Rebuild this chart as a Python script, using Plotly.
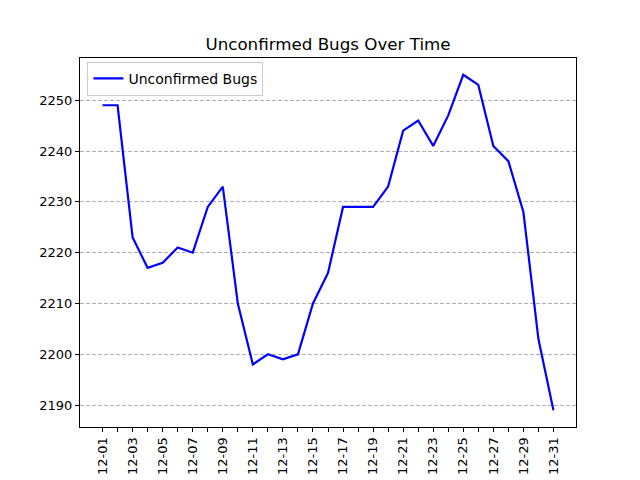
import plotly.graph_objects as go

days = [f"12-{d:02d}" for d in range(1, 32)]
bugs = [2249, 2249, 2223, 2217, 2218, 2221, 2220, 2229, 2233, 2210,
        2198, 2200, 2199, 2200, 2210, 2216, 2229, 2229, 2229, 2233,
        2244, 2246, 2241, 2247, 2255, 2253, 2241, 2238, 2228, 2203, 2189]
tick_text = [d if i % 2 == 0 else "" for i, d in enumerate(days)]
y_ticks = [2190, 2200, 2210, 2220, 2230, 2240, 2250]

fig = go.Figure()
fig.add_trace(go.Scatter(x=days, y=bugs, mode="lines", name="Unconfirmed Bugs",
                         line=dict(color="#0000ff", width=2.2)))

font = "DejaVu Sans, sans-serif"
fig.update_layout(
    width=640, height=480,
    margin=dict(l=80, r=64, t=58, b=53, autoexpand=False),
    paper_bgcolor="white", plot_bgcolor="white",
    font=dict(family=font, size=13, color="black"),
    title=dict(text="Unconfirmed Bugs Over Time", x=0.5, xref="paper",
               y=1 - 44 / 480, yanchor="middle", font=dict(size=16.7)),
    showlegend=True,
    legend=dict(x=0.015, y=0.99, xanchor="left", yanchor="top",
                bordercolor="#cccccc", borderwidth=1, bgcolor="rgba(255,255,255,0.8)",
                font=dict(size=14), tracegroupgap=0),
)
fig.update_xaxes(
    type="category", tickmode="array", tickvals=days, ticktext=tick_text,
    range=[-1.5, 31.5], tickangle=-90, ticks="outside", ticklen=4, tickcolor="black",
    showline=True, linecolor="black", linewidth=1, mirror=True, showgrid=False,
    tickfont=dict(size=13), automargin=False,
)
fig.update_yaxes(
    tickmode="array", tickvals=y_ticks, range=[2185.7, 2258.3],
    ticks="outside", ticklen=4, tickcolor="black",
    showline=True, linecolor="black", linewidth=1, mirror=True,
    showgrid=True, gridcolor="#b0b0b0", griddash="4px,2px", gridwidth=0.8,
    zeroline=False, tickfont=dict(size=13), automargin=False,
)
fig.write_html("out.html", config={"displayModeBar": False},
               post_script="document.body.style.margin='0';document.body.style.padding='0';")
